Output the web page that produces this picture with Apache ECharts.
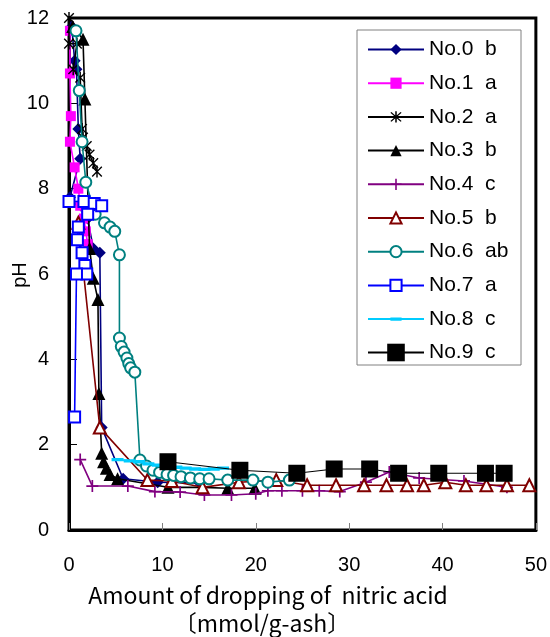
<!DOCTYPE html>
<html><head><meta charset="utf-8">
<script src="https://cdn.jsdelivr.net/npm/echarts@6/dist/echarts.min.js"></script>
<style>html,body{margin:0;padding:0;background:#fff}#c{width:550px;height:637px}</style>
</head><body><div id="c"></div><script>
const seriesNames = ['No.0  b','No.1  a','No.2  a','No.3  b','No.4  c','No.5  b','No.6  ab','No.7  a','No.8  c','No.9  c'];
const xTicks = [0,10,20,30,40,50];
const yTicks = [0,2,4,6,8,10,12];
const xTitle1 = 'Amount of dropping of  nitric acid';
const xTitle2 = '〔mmol/g-ash〕';
const yTitle = 'pH';

const no0 = [[0.3,11.8],[0.6,11.0],[0.8,10.8],[1.0,9.4],[1.2,8.7],[0.1,7.8],[2.0,7.3],[2.6,6.6],[3.3,6.5],[3.5,2.4],[5.8,1.2],[9.5,1.12],[14,1.1]];
const no1 = [[0.1,11.7],[0.1,10.7],[0.2,9.7],[0.1,9.1],[0.6,8.5],[1.0,8.0],[1.2,7.6],[1.6,7.3],[1.8,7.0],[2.0,6.7]];
const no2 = [[0,12.0],[0,11.4],[0.85,11.4],[0.45,10.8],[1.2,10.6],[1.4,9.4],[1.5,9.2],[1.9,9.0],[2.2,8.8],[2.6,8.6],[3.0,8.4]];
const no3 = [[0.4,11.8],[1.5,11.5],[1.7,10.1],[2.2,6.6],[2.6,5.9],[3.1,5.4],[3.2,3.2],[3.5,1.8],[3.7,1.6],[4.0,1.45],[4.4,1.3],[5.2,1.2],[10.6,1.0],[14.3,1.0],[17,0.98],[19.9,0.98]];
const no4 = [[1.2,1.65],[2.5,1.03],[6.3,1.03],[9.2,0.9],[11.9,0.89],[14.5,0.82],[17.4,0.82],[20,0.85],[21.3,0.92],[22.8,0.92],[25,0.92],[26.8,0.92],[29,0.9],[31.8,1.12],[34.3,1.36],[37.5,1.22],[42.3,1.15],[46.9,1.0]];
const no5 = [[1.0,7.2],[3.3,2.4],[8.4,1.17],[11,1.15],[14.3,1.0],[18.2,1.12],[22.2,1.17],[25.5,1.05],[28.6,1.05],[31.6,1.05],[34,1.05],[36.2,1.05],[38,1.05],[40.3,1.12],[42.5,1.05],[44.7,1.05],[46.9,1.05],[49.3,1.05]];
const no6 = [[0.75,11.7],[1.1,10.3],[1.4,9.1],[1.8,8.15],[2.8,7.4],[3.8,7.2],[4.4,7.1],[4.9,7.0],[5.4,6.45],[5.4,4.5],[5.6,4.3],[5.9,4.17],[6.2,4.03],[6.4,3.9],[6.6,3.8],[7.05,3.7],[7.6,1.64],[8.3,1.5],[9,1.4],[9.7,1.35],[10.5,1.3],[11.2,1.28],[12,1.25],[13,1.22],[14,1.2],[15,1.2],[17,1.17],[19.7,1.17],[21.3,1.12],[23.6,1.17]];
const no7 = [[0,7.7],[1.6,7.7],[2.7,7.65],[3.5,7.6],[2.0,7.4],[1.0,7.1],[0.9,6.8],[1.4,6.5],[1.7,6.2],[1.9,6.0],[0.8,6.0],[0.6,2.65]];
const no8 = [[5.2,1.65],[6.5,1.62],[7.5,1.6],[8.5,1.55],[9.5,1.52],[10.5,1.5],[11.5,1.47],[12.5,1.45],[13.5,1.43],[14.5,1.42],[15.5,1.43],[16.5,1.45]];
const no9 = [[10.6,1.6],[18.3,1.4],[24.4,1.33],[28.4,1.43],[32.2,1.43],[35.3,1.33],[39.6,1.33],[44.6,1.33],[46.6,1.33]];

const allData = [no0,no1,no2,no3,no4,no5,no6,no7,no8,no9];
const colors = ['#000080','#FF00FF','#000000','#000000','#800080','#800000','#008080','#0000FF','#00CCFF','#000000'];
const ASTER = 'path://M4.4,0H5.6V10H4.4Z M0.6,1.4L1.4,0.6L9.4,8.6L8.6,9.4Z M8.6,0.6L9.4,1.4L1.4,9.4L0.6,8.6Z';
const PLUS = 'path://M4.3,0H5.7V10H4.3Z M0,4.3H10V5.7H0Z';
const DASH = 'path://M0,0L0.01,0Z M0,3.6H10V6.4H0Z M9.99,10L10,10Z';
const symbols = ['diamond','rect',ASTER,'triangle',PLUS,'emptyTriangle','emptyCircle','emptyRect',DASH,'rect'];
const sizes = [12,10,12,13,12,12,11,11,12,17];

const series = allData.map((d,i)=>({
  name: seriesNames[i], type:'line', data:d,
  symbol: symbols[i], symbolSize: sizes[i], symbolKeepAspect:true,
  showAllSymbol:true,
  lineStyle:{color:colors[i], width: i===9?1.2:1.6},
  itemStyle:{color:colors[i], borderColor:colors[i], borderWidth: (i>=5&&i<=7)?2:0},
  emphasis:{disabled:true}, z: 2+i*0.1
}));

const chart = echarts.init(document.getElementById('c'), null, {renderer:'canvas'});
const legendText = {fontFamily:'Liberation Sans, Arial, sans-serif', fontSize:21, lineHeight:20, color:'#000'};
chart.setOption({
  animation:false,
  backgroundColor:'#fff',
  grid:{left:69, right:13, top:18, bottom:107, show:true, borderColor:'#000', borderWidth:3, backgroundColor:'transparent'},
  xAxis:{type:'value', min:xTicks[0], max:xTicks[xTicks.length-1], interval:10,
    axisLine:{show:true, lineStyle:{color:'#000', width:3}},
    axisTick:{show:true, inside:true, length:7, lineStyle:{color:'#808080', width:1}},
    axisLabel:{margin:25, fontSize:20, color:'#000', fontFamily:'Liberation Sans, Arial, sans-serif'},
    splitLine:{show:false}},
  yAxis:{type:'value', min:yTicks[0], max:yTicks[yTicks.length-1], interval:2,
    axisLine:{show:true, lineStyle:{color:'#000', width:3}},
    axisTick:{show:true, inside:true, length:8, lineStyle:{color:'#000', width:1}},
    axisLabel:{margin:20, fontSize:20, color:'#000', fontFamily:'Liberation Sans, Arial, sans-serif'},
    splitLine:{show:false}},
  legend:[
    {data:seriesNames.slice(0,9), orient:'vertical', left:367, top:39, padding:0, itemWidth:56, itemHeight:14, itemGap:12.7,
     textStyle:legendText, selectedMode:false, backgroundColor:'transparent'},
    {data:[seriesNames[9]], orient:'vertical', left:367, top:342, padding:0, itemWidth:56, itemHeight:22, itemGap:0,
     textStyle:legendText, selectedMode:false, backgroundColor:'transparent'}
  ],
  graphic:[
    {type:'rect', shape:{x:357, y:30, width:164, height:335}, style:{fill:'#fff', stroke:'#808080', lineWidth:1}, z:3},
    {type:'text', x:20, y:275, rotation:Math.PI/2, style:{text:yTitle, font:'20px "Liberation Sans", Arial, sans-serif', fill:'#000', textAlign:'center', textVerticalAlign:'middle'}},
    {type:'text', x:268, y:595, style:{text:xTitle1, font:'23px "Noto Sans CJK JP", sans-serif', fill:'#000', textAlign:'center', textVerticalAlign:'middle'}},
    {type:'text', x:262, y:623, style:{text:xTitle2, font:'23px "Noto Sans CJK JP", sans-serif', fill:'#000', textAlign:'center', textVerticalAlign:'middle'}}
  ],
  series: series
});
</script></body></html>
